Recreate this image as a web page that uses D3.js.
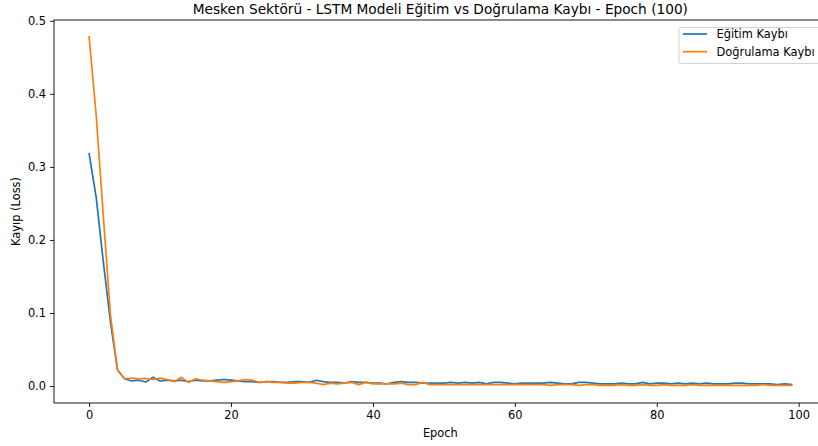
<!DOCTYPE html>
<html>
<head>
<meta charset="utf-8">
<script src="https://cdn.jsdelivr.net/npm/d3@7"></script>
<style>
  body { margin: 0; background: #fff; }
  svg { display: block; font-family: "DejaVu Sans", sans-serif; }
</style>
</head>
<body>
<svg class="chart"></svg>
<script>
var width = 818,
    height = 446;

var chartTitle = "Mesken Sektörü - LSTM Modeli Eğitim vs Doğrulama Kaybı - Epoch (100)";
var seriesNames = ["Eğitim Kaybı", "Doğrulama Kaybı"];

// loss per epoch
var trainLoss = [
    0.318, 0.258, 0.170, 0.088, 0.022, 0.010, 0.007, 0.008, 0.0055, 0.012,
    0.007, 0.008, 0.007, 0.008, 0.006, 0.008, 0.007, 0.007, 0.008, 0.009,
    0.008, 0.007, 0.006, 0.006, 0.005, 0.006, 0.006, 0.005, 0.005, 0.006,
    0.006, 0.005, 0.008, 0.006, 0.005, 0.005, 0.004, 0.006, 0.005, 0.005,
    0.004, 0.004, 0.003, 0.005, 0.006, 0.005, 0.005, 0.004, 0.004, 0.004,
    0.004, 0.005, 0.004, 0.005, 0.004, 0.005, 0.003, 0.005, 0.005, 0.004,
    0.003, 0.004, 0.004, 0.004, 0.004, 0.005, 0.004, 0.003, 0.003, 0.005,
    0.005, 0.004, 0.003, 0.003, 0.003, 0.004, 0.003, 0.003, 0.005, 0.003,
    0.004, 0.004, 0.003, 0.004, 0.003, 0.004, 0.003, 0.004, 0.003, 0.003,
    0.003, 0.004, 0.004, 0.003, 0.003, 0.003, 0.003, 0.002, 0.003, 0.002
];
var valLoss = [
    0.478, 0.370, 0.233, 0.098, 0.022, 0.010, 0.011, 0.010, 0.0105, 0.009,
    0.011, 0.009, 0.006, 0.012, 0.005, 0.010, 0.008, 0.007, 0.006, 0.005,
    0.006, 0.007, 0.009, 0.008, 0.005, 0.006, 0.005, 0.005, 0.004, 0.004,
    0.005, 0.005, 0.004, 0.002, 0.004, 0.003, 0.004, 0.005, 0.002, 0.005,
    0.003, 0.003, 0.003, 0.003, 0.004, 0.002, 0.002, 0.005, 0.002, 0.002,
    0.002, 0.002, 0.002, 0.002, 0.002, 0.002, 0.002, 0.002, 0.002, 0.002,
    0.002, 0.002, 0.002, 0.002, 0.002, 0.001, 0.002, 0.002, 0.002, 0.001,
    0.002, 0.002, 0.001, 0.001, 0.001, 0.002, 0.001, 0.001, 0.002, 0.001,
    0.001, 0.002, 0.001, 0.001, 0.001, 0.002, 0.001, 0.001, 0.001, 0.001,
    0.001, 0.001, 0.001, 0.001, 0.001, 0.002, 0.001, 0.001, 0.001, 0.001
];
var xTicks = [0, 20, 40, 60, 80, 100];
var yTicks = [0.0, 0.1, 0.2, 0.3, 0.4, 0.5];

var colors = ["#1f77b4", "#ff7f0e"];

var plotL = 54, plotR = 826.7, plotT = 20, plotB = 403;

var x = d3.scaleLinear().domain([-4.95, 103.95]).range([plotL, plotR]);
var y = d3.scaleLinear().domain([-0.0232, 0.5011]).range([plotB, plotT]);

var svg = d3.select(".chart")
    .attr("width", width)
    .attr("height", height);

var fs = 11.4;

// axes
var xAxis = svg.append("g")
    .attr("transform", "translate(0," + plotB + ")")
    .call(d3.axisBottom(x).tickValues(xTicks).tickFormat(d3.format("d")).tickSize(4).tickPadding(4));
var yAxis = svg.append("g")
    .attr("transform", "translate(" + plotL + ",0)")
    .call(d3.axisLeft(y).tickValues(yTicks).tickFormat(d3.format(".1f")).tickSize(4).tickPadding(4));

[xAxis, yAxis].forEach(function(g) {
    g.select(".domain").remove();
    g.selectAll("line").attr("stroke", "#000").attr("stroke-width", 0.9);
    g.selectAll("text").attr("fill", "#000").style("font-size", fs + "px").style("font-family", "DejaVu Sans");
});

// spines
svg.append("rect")
    .attr("x", plotL).attr("y", plotT)
    .attr("width", plotR - plotL).attr("height", plotB - plotT)
    .attr("fill", "none").attr("stroke", "#000").attr("stroke-width", 0.9);

// lines
var line = d3.line()
    .x(function(d, i) { return x(i); })
    .y(function(d) { return y(d); });

[trainLoss, valLoss].forEach(function(s, k) {
    svg.append("path")
        .datum(s)
        .attr("d", line)
        .attr("fill", "none")
        .attr("stroke", colors[k])
        .attr("stroke-width", 1.7)
        .attr("stroke-linejoin", "round")
        .attr("stroke-linecap", "square");
});

// title + labels
svg.append("text")
    .attr("x", (plotL + plotR) / 2).attr("y", 14)
    .attr("text-anchor", "middle")
    .style("font-size", "13.7px")
    .text(chartTitle);

svg.append("text")
    .attr("x", (plotL + plotR) / 2).attr("y", 437)
    .attr("text-anchor", "middle")
    .style("font-size", fs + "px")
    .text("Epoch");

svg.append("text")
    .attr("transform", "translate(20," + ((plotT + plotB) / 2) + ") rotate(-90)")
    .attr("text-anchor", "middle")
    .style("font-size", fs + "px")
    .text("Kayıp (Loss)");

// legend
var lg = svg.append("g").attr("transform", "translate(679,27.5)");
lg.append("rect")
    .attr("width", 150).attr("height", 36)
    .attr("rx", 2.5)
    .attr("fill", "#fff").attr("fill-opacity", 0.8)
    .attr("stroke", "#cccccc").attr("stroke-width", 0.9);

seriesNames.forEach(function(name, k) {
    var yy = 6.5 + k * 17.7;
    lg.append("line")
        .attr("x1", 4).attr("x2", 28)
        .attr("y1", yy).attr("y2", yy)
        .attr("stroke", colors[k]).attr("stroke-width", 1.7);
    lg.append("text")
        .attr("x", 37.5).attr("y", yy)
        .attr("dy", "0.36em")
        .style("font-size", fs + "px")
        .text(name);
});
</script>
</body>
</html>
